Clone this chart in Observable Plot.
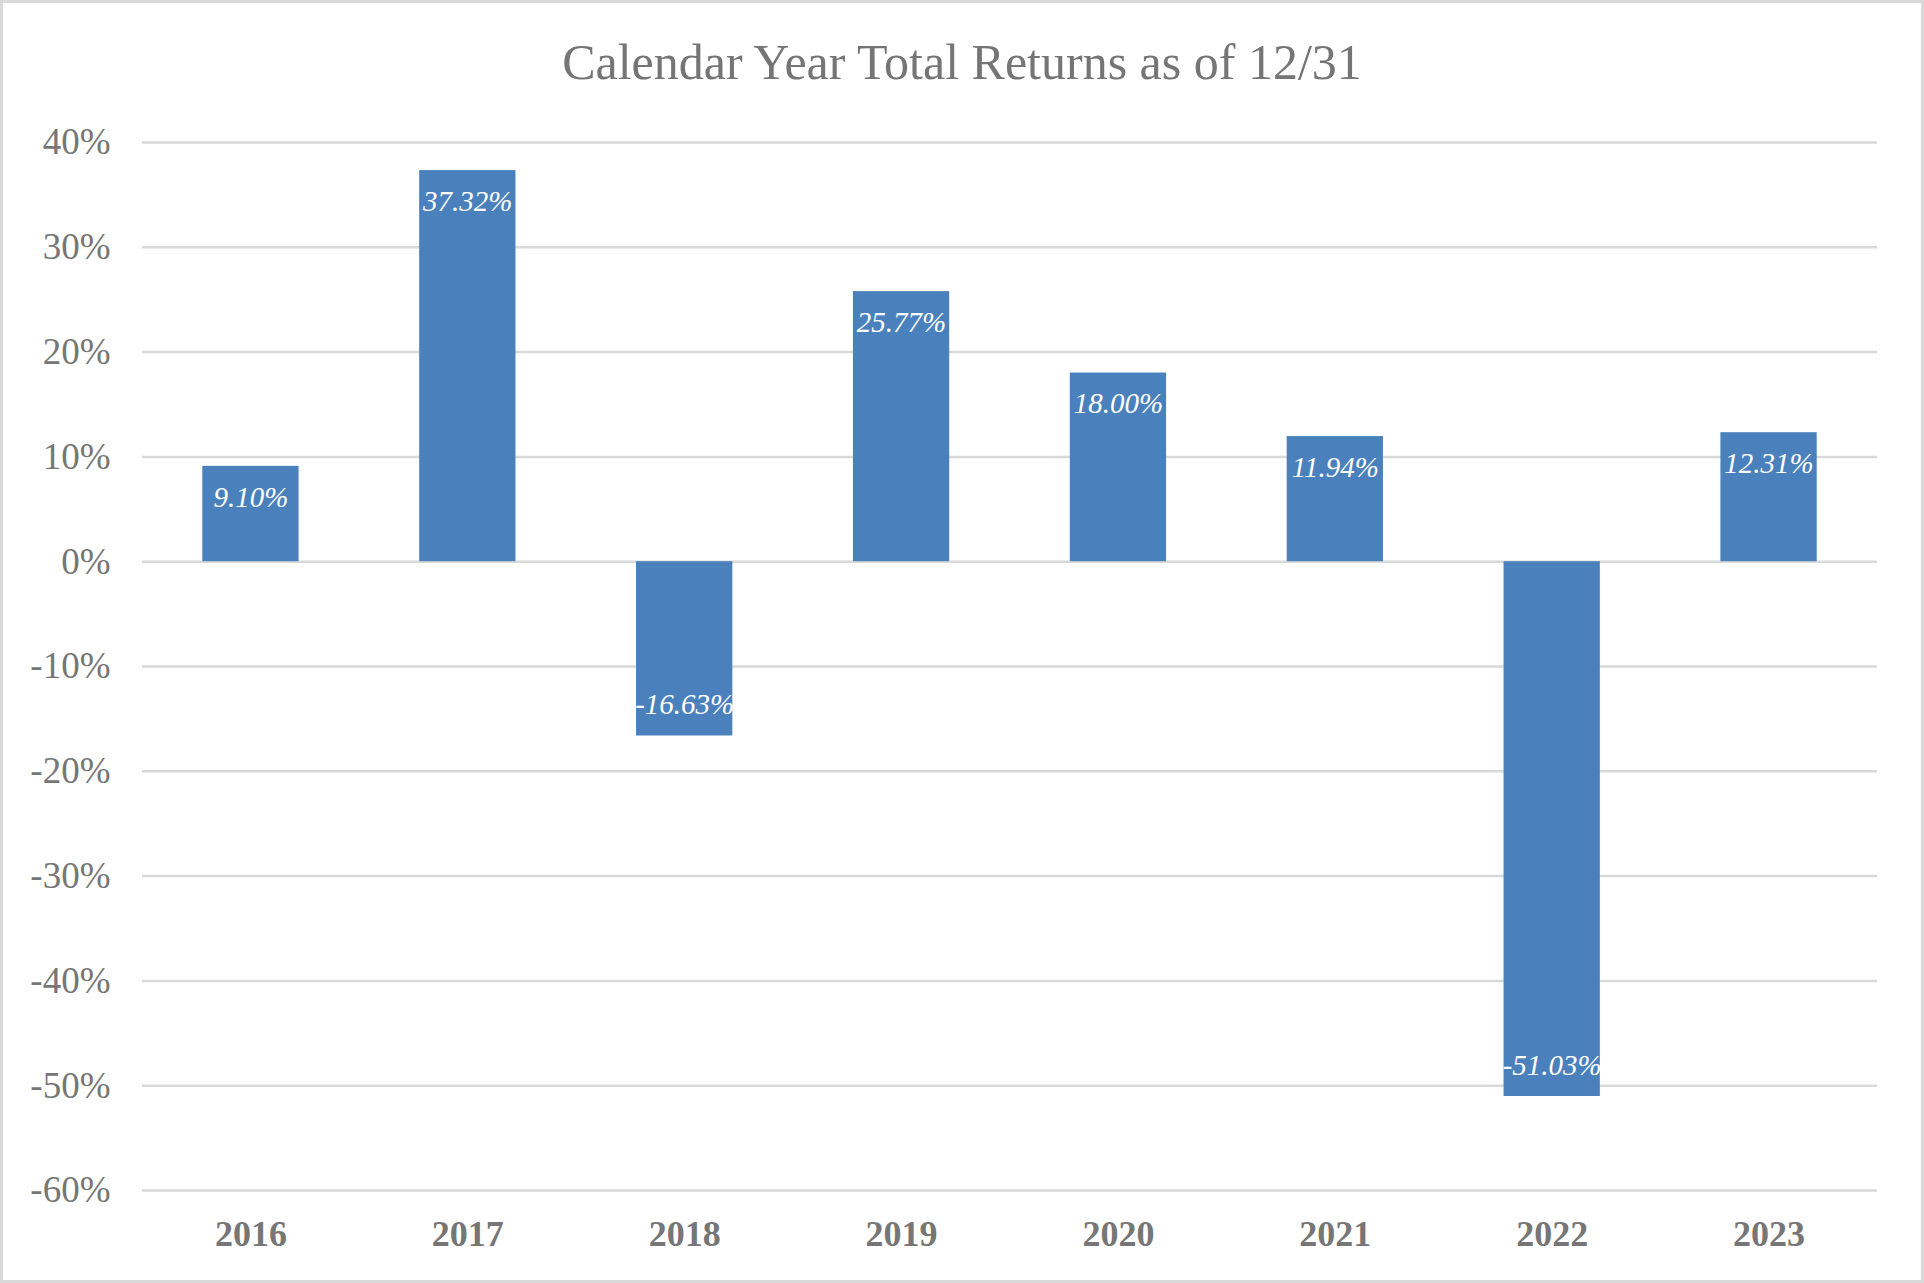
<!DOCTYPE html>
<html>
<head>
<meta charset="utf-8">
<script src="https://cdn.jsdelivr.net/npm/d3@7"></script>
<script src="https://cdn.jsdelivr.net/npm/@observablehq/plot@0.6"></script>
<style>
  html, body { margin: 0; padding: 0; background: #fff; }
  #wrap { position: relative; width: 1924px; height: 1283px; background: #fff; overflow: hidden; }
  #frame { position: absolute; left: 0; top: 0; width: 1924px; height: 1283px; box-sizing: border-box; border: 3px solid #d9d9d9; pointer-events: none; }
  #title { box-sizing: content-box; padding-top: 22px; height: 80px; line-height: 80px; text-align: center; font-family: "Liberation Serif", "Times New Roman", serif; font-size: 50px; color: #757575; white-space: nowrap; }
  #chart svg { display: block; }
</style>
</head>
<body>
<div id="wrap">
  <div id="title">Calendar Year Total Returns as of 12/31</div>
  <div id="chart"></div>
  <div id="frame"></div>
</div>
<script>
const years = ["2016", "2017", "2018", "2019", "2020", "2021", "2022", "2023"];
const returns = [9.10, 37.32, -16.63, 25.77, 18.00, 11.94, -51.03, 12.31];
const yTicks = [40, 30, 20, 10, 0, -10, -20, -30, -40, -50, -60];

const data = years.map((year, i) => ({year, value: returns[i]}));
const font = "Liberation Serif";

const chart = Plot.plot({
  width: 1924,
  height: 1181,
  marginTop: 40,
  marginBottom: 93,
  marginLeft: 142,
  marginRight: 47,
  style: {fontFamily: font, background: "#fff"},
  x: {domain: years, paddingInner: 0.556, paddingOuter: 0.278, round: false, label: null},
  y: {domain: [-60, 40], label: null},
  marks: [
    Plot.gridY(yTicks, {stroke: "#d9d9d9", strokeWidth: 2.5, strokeOpacity: 1}),
    Plot.barY(data, {x: "year", y: "value", fill: "#4a81bd"}),
    Plot.text(data.filter(d => d.value >= 0), {
      x: "year", y: "value", text: d => d.value.toFixed(2) + "%",
      dy: 31, fill: "white", fontSize: 29, fontStyle: "italic", fontFamily: font
    }),
    Plot.text(data.filter(d => d.value < 0), {
      x: "year", y: "value", text: d => d.value.toFixed(2) + "%",
      dy: -31, fill: "white", fontSize: 29, fontStyle: "italic", fontFamily: font
    }),
    Plot.axisY(yTicks, {
      tickSize: 0, tickPadding: 32, tickFormat: d => d + "%",
      fontSize: 37, fill: "#767676", fontFamily: font, label: null
    }),
    Plot.axisX({
      tickSize: 0, tickPadding: 30, fontSize: 36, fontWeight: "bold",
      fill: "#767676", fontFamily: font, label: null
    })
  ]
});
document.getElementById("chart").appendChild(chart);
</script>
</body>
</html>
